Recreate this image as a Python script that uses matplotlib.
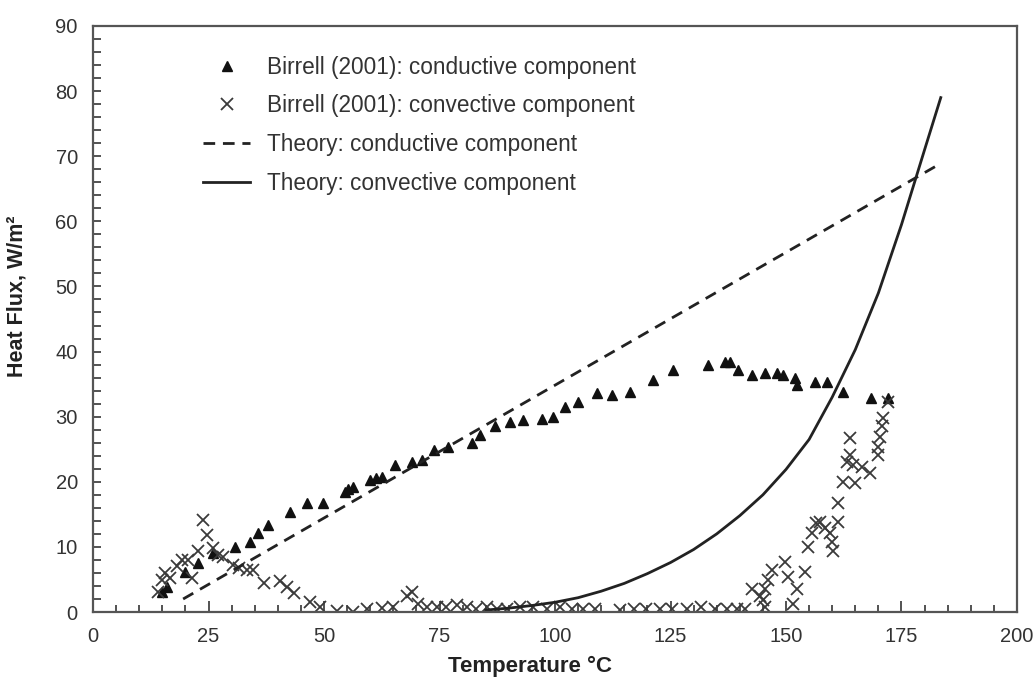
import numpy as np
import matplotlib.pyplot as plt

plt.rcParams['font.family'] = ['Liberation Sans', 'DejaVu Sans']

# Birrell (2001) measured conductive heat flux
cond_T = [14.9, 16.0, 19.9, 22.8, 26.0, 30.7, 34.0, 35.8, 37.9, 42.6, 46.3, 49.8,
          54.5, 55.2, 56.2, 60.0, 61.3, 62.5, 65.4, 69.0, 71.1, 73.7, 76.9, 82.0,
          83.8, 87.0, 90.3, 93.1, 97.1, 99.6, 102.2, 105.0, 109.0, 112.3, 116.2,
          121.3, 125.6, 133.2, 136.8, 137.9, 139.7, 142.6, 145.5, 148.0, 149.4,
          152.0, 152.3, 156.3, 158.8, 162.4, 168.5, 172.1]
cond_F = [3.1, 3.9, 6.2, 7.5, 9.0, 10.0, 10.8, 12.1, 13.4, 15.4, 16.7, 16.7,
          18.5, 18.9, 19.2, 20.3, 20.6, 20.8, 22.6, 23.1, 23.3, 24.9, 25.4, 25.9,
          27.2, 28.5, 29.2, 29.5, 29.7, 30.0, 31.5, 32.3, 33.6, 33.3, 33.8,
          35.6, 37.2, 37.9, 38.4, 38.4, 37.2, 36.4, 36.7, 36.7, 36.4,
          35.9, 34.9, 35.4, 35.4, 33.8, 32.8, 32.8]

# Birrell (2001) measured convective heat flux
conv_T = [14.1, 14.9, 15.6, 16.7, 18.1, 19.2, 20.6, 21.4, 22.8, 23.9, 24.6, 26.0,
          27.1, 28.2, 30.4, 31.5, 33.3, 34.7, 36.9, 40.5, 41.9, 43.4, 47.0, 49.1,
          52.7, 56.3, 59.2, 62.5, 65.0, 67.9, 69.0, 70.4, 72.2, 74.4, 76.5, 78.7,
          80.9, 83.0, 85.2, 87.4, 89.5, 92.4, 95.3, 98.2, 101.1, 103.6, 106.1,
          108.7, 114.0, 117.0, 119.8, 122.7, 125.3, 128.5, 131.7, 134.6, 137.2,
          139.3, 141.1, 142.6, 144.4, 145.1, 145.5, 145.5, 146.2, 146.9, 149.8,
          150.5, 151.6, 152.3, 154.1, 154.8, 155.6, 156.6, 157.4, 158.4, 159.5,
          159.9, 160.2, 161.3, 161.3, 162.4, 163.1, 163.9, 163.9, 164.6, 165.0,
          166.4, 168.2, 170.0, 170.0, 170.3, 170.7, 171.0, 172.1]
conv_F = [3.1, 4.9, 6.0, 5.2, 7.0, 8.0, 8.0, 5.2, 9.3, 14.1, 11.8, 9.8,
          8.8, 8.5, 7.2, 6.7, 6.5, 6.5, 4.4, 4.7, 3.9, 2.9, 1.6, 0.8,
          0.1, 0.0, 0.5, 0.6, 0.8, 2.4, 3.1, 1.3, 0.8, 0.8, 0.8, 1.1,
          0.8, 0.5, 0.8, 0.5, 0.5, 0.8, 0.8, 0.5, 0.8, 0.5, 0.5,
          0.5, 0.3, 0.5, 0.5, 0.5, 0.5, 0.5, 0.8, 0.5, 0.5,
          0.5, 0.5, 3.6, 2.4, 1.8, 0.8, 3.6, 4.9, 6.4, 7.7,
          5.4, 1.3, 3.6, 6.2, 10.0, 12.1, 13.6, 13.9, 12.9, 12.1,
          10.8, 9.3, 13.9, 16.7, 20.0, 23.1, 24.1, 26.7, 22.6, 19.8,
          22.3, 21.3, 24.1, 25.4, 26.9, 28.5, 29.8, 32.3]

# theory curves
theo_cond_T = [19.5, 183.5]
theo_cond_F = [2.0, 68.9]

theo_conv_T = [85, 90, 95, 100, 105, 110, 115, 120, 125, 130, 135, 140, 145,
               150, 155, 160, 165, 170, 175, 180, 183.5]
theo_conv_F = [0.3, 0.6, 1.0, 1.5, 2.2, 3.2, 4.4, 5.9, 7.6, 9.6, 12.0, 14.8, 18.0,
               21.9, 26.5, 33.0, 40.3, 49.0, 59.5, 71.0, 79.0]

fig = plt.figure(figsize=(10.35, 6.82), dpi=100)
ax = fig.add_axes([0.0899, 0.1026, 0.8927, 0.8593])

ax.plot(cond_T, cond_F, linestyle='none', marker='^', markersize=7.5,
        color='#111111', label='Birrell (2001): conductive component')
ax.plot(conv_T, conv_F, linestyle='none', marker='x', markersize=8, mew=1.3,
        color='#3a3a3a', label='Birrell (2001): convective component')
ax.plot(theo_cond_T, theo_cond_F, color='#222222', lw=2.0, dashes=(4.2, 2.8),
        label='Theory: conductive component')
ax.plot(theo_conv_T, theo_conv_F, color='#222222', lw=2.0,
        label='Theory: convective component')

ax.set_xlim(0, 200)
ax.set_ylim(0, 90)
ax.set_xticks(np.arange(0, 201, 25))
ax.set_xticks(np.arange(0, 201, 5), minor=True)
ax.set_yticks(np.arange(0, 91, 10))
ax.set_yticks(np.arange(0, 91, 2), minor=True)
ax.tick_params(which='both', direction='in', colors='#444444', labelcolor='#333333',
               labelsize=14.5, pad=11, width=1.3)
ax.tick_params(axis='x', which='major', length=8)
ax.tick_params(axis='x', which='minor', length=5)
ax.tick_params(axis='y', which='both', length=6)
for s in ax.spines.values():
    s.set_color('#555555')
    s.set_linewidth(1.6)

ax.set_xlabel('Temperature °C', fontsize=16, fontweight='bold', color='#222222')
ax.set_ylabel('Heat Flux, W/m²', fontsize=15.5, fontweight='bold', color='#222222')
ax.xaxis.set_label_coords(0.473, -0.075)
ax.yaxis.set_label_coords(-0.071, 0.539)

leg = ax.legend(loc='upper left', bbox_to_anchor=(0.109, 0.965), borderaxespad=0,
                frameon=False, fontsize=16.3, handlelength=2.1, handletextpad=0.75,
                labelspacing=0.7, numpoints=1)
for t in leg.get_texts():
    t.set_color('#333333')

fig.savefig('out.png', dpi=100)
